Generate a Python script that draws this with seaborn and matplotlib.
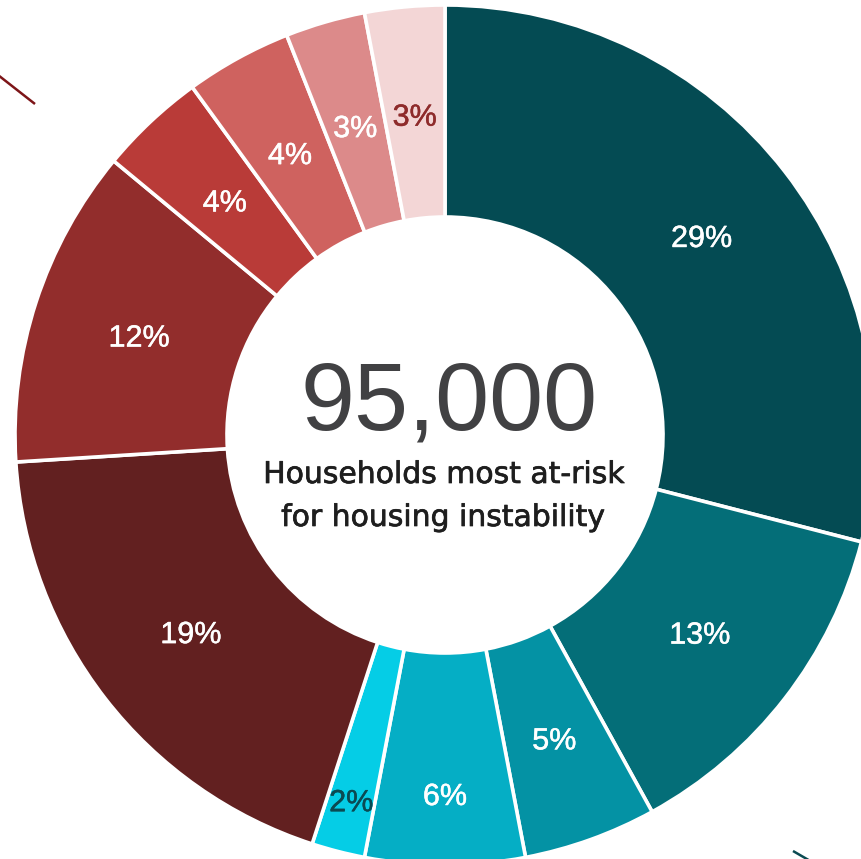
import matplotlib
matplotlib.use("Agg")
import matplotlib.pyplot as plt
import matplotlib.patheffects as pe
import seaborn as sns
import numpy as np

# Share of at-risk households by group (percent), clockwise from 12 o'clock
shares = [29, 13, 5, 6, 2, 19, 12, 4, 4, 3, 3]
share_labels = [f"{s}%" for s in shares]
total_households = "95,000"
caption_lines = ["Households most at-risk", "for housing instability"]

slice_hex = ["#044b53", "#046e78", "#0492a4", "#05aec5", "#05cde6",
             "#622020", "#922d2c", "#b93b38", "#cf625f", "#dc8a8a", "#f3d6d6"]
label_hex = ["white", "white", "white", "white", "#0b4a52",
             "white", "white", "white", "white", "white", "#8e2b2b"]
# radial position of each percentage label (fraction of outer radius)
label_r = [0.755, 0.75, 0.75, 0.835, 0.877, 0.748, 0.748, 0.748, 0.748, 0.748, 0.748]

sns.set_theme(style="white")
plt.rcParams["font.family"] = ["Liberation Sans", "DejaVu Sans"]

W, H = 861, 859
R = 430.0              # outer radius in pixels
CX, CY = 445.0, 435.0  # ring centre in pixels (from top-left)


def px(x, y):
    """Pixel position (top-left origin) -> data units of the ring."""
    return (x - CX) / R, (CY - y) / R


fig = plt.figure(figsize=(W / 100, H / 100), dpi=100)
ax = fig.add_axes([0, 0, 1, 1])

palette = sns.color_palette(slice_hex)
wedges, _ = ax.pie(
    shares,
    colors=palette,
    startangle=90,
    counterclock=False,
    radius=1.0,
    wedgeprops=dict(width=1 - 218 / R, edgecolor="white", linewidth=2.6),
)

label_pt = 22
cap_half = 0.716 * label_pt * 100 / 72 / 2 / R   # half cap height, data units
for w, lab, col, r in zip(wedges, share_labels, label_hex, label_r):
    mid = np.deg2rad((w.theta1 + w.theta2) / 2)
    ax.text(r * np.cos(mid), r * np.sin(mid) - cap_half, lab, color=col,
            fontsize=label_pt, ha="center", va="baseline",
            path_effects=[pe.withStroke(linewidth=0.35, foreground=col)])

# centre figure and caption
x0, y0 = px(449, 430)
ax.text(x0, y0, total_households, fontsize=70, color="#414143",
        ha="center", va="baseline")
cap_style = dict(fontsize=21.5, color="#1e1e1e", ha="center", va="baseline",
                 family=["DejaVu Sans"],
                 path_effects=[pe.withStroke(linewidth=0.5, foreground="#1e1e1e")])
x1, y1 = px(444, 483)
ax.text(x1, y1, caption_lines[0], **cap_style)
x2, y2 = px(443, 526)
ax.text(x2, y2, caption_lines[1], **cap_style)

# leader strokes entering from outside the frame
ax.plot(*zip(px(-2, 75), px(35, 104)), color="#7d1518", lw=1.8,
        solid_capstyle="butt")
ax.plot(*zip(px(793, 851), px(812, 862)), color="#0b4a52", lw=1.8,
        solid_capstyle="butt")

ax.set_xlim(-CX / R, (W - CX) / R)
ax.set_ylim((CY - H) / R, CY / R)
ax.set_axis_off()

fig.savefig("out.png", dpi=100, facecolor="white")
